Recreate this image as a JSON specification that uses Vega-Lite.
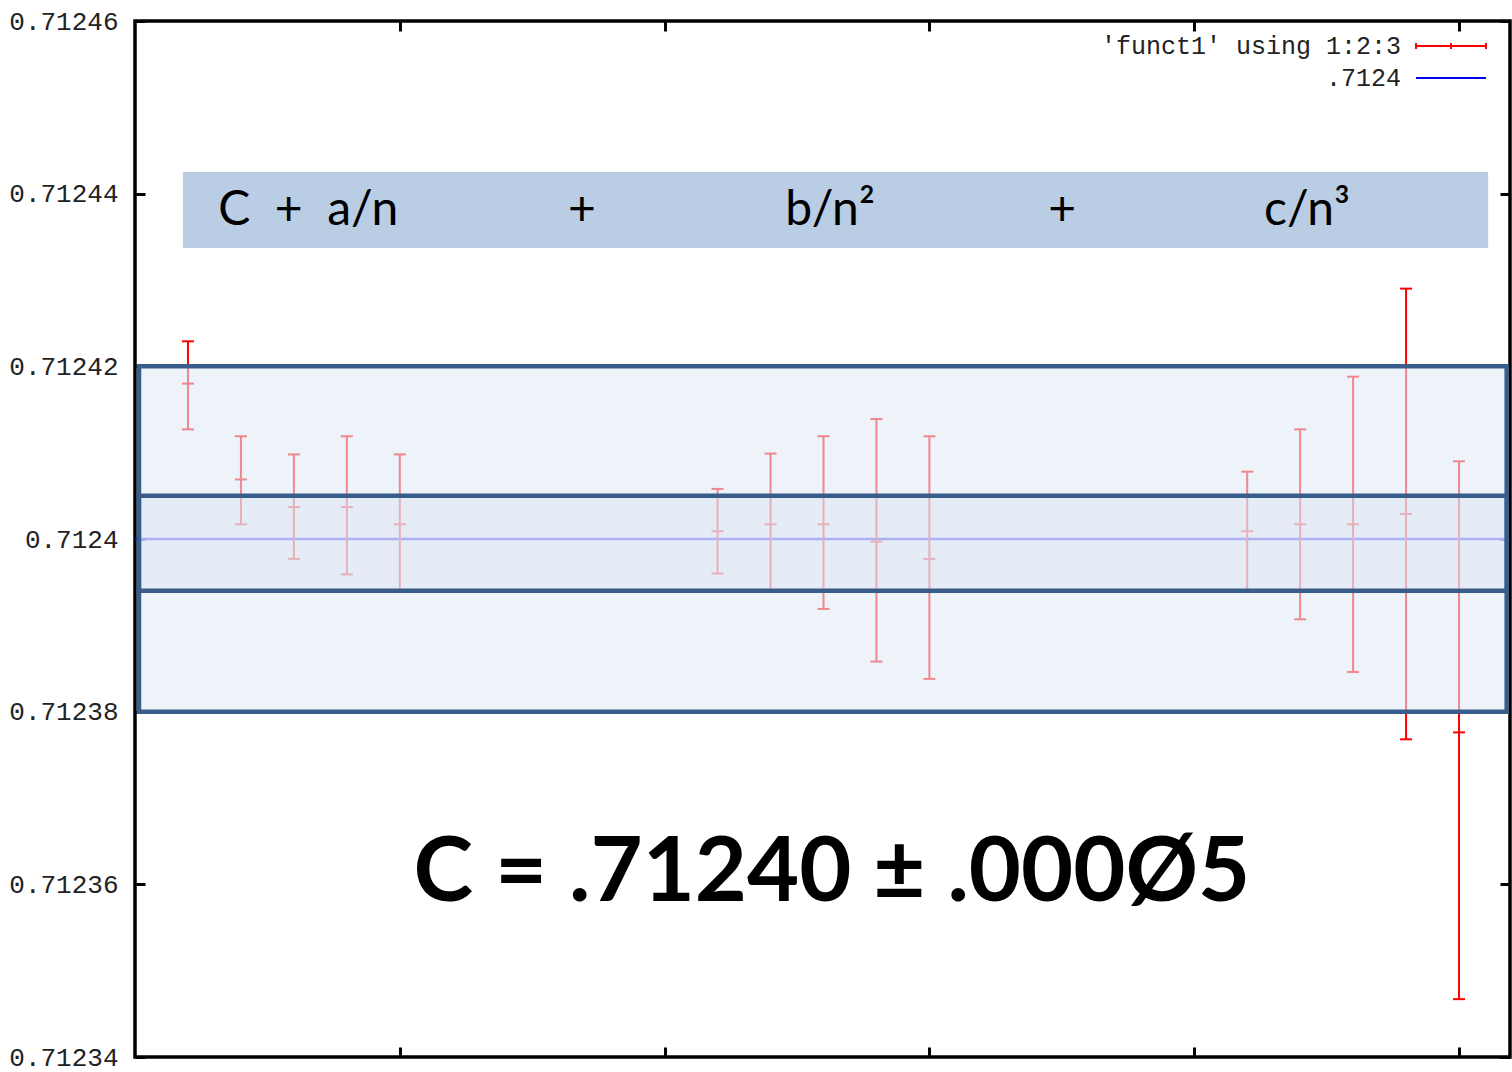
{
  "$schema": "https://vega.github.io/schema/vega-lite/v6.json",
  "width": 1375,
  "height": 1036,
  "autosize": {"type": "none"},
  "padding": {"left": 135, "top": 21, "right": 2, "bottom": 15},
  "background": "white",
  "config": {
    "view": {"stroke": "black", "strokeWidth": 3.5},
    "axis": {
      "domain": false,
      "grid": false,
      "title": null,
      "tickColor": "black",
      "tickWidth": 3,
      "tickSize": -10,
      "labelFont": "Liberation Mono",
      "labelFontSize": 26,
      "labelColor": "#222222"
    }
  },
  "datasets": {
    "funct1": [
      {"x": 0.2, "y": 0.712418, "lo": 0.7124127, "hi": 0.7124229},
      {"x": 0.4, "y": 0.7124069, "lo": 0.7124017, "hi": 0.7124119},
      {"x": 0.6, "y": 0.7124037, "lo": 0.7123977, "hi": 0.7124098},
      {"x": 0.8, "y": 0.7124037, "lo": 0.7123959, "hi": 0.7124119},
      {"x": 1.0, "y": 0.7124017, "lo": 0.7123941, "hi": 0.7124098},
      {"x": 2.2, "y": 0.7124009, "lo": 0.712396, "hi": 0.7124058},
      {"x": 2.4, "y": 0.7124017, "lo": 0.7123939, "hi": 0.7124099},
      {"x": 2.6, "y": 0.7124017, "lo": 0.7123919, "hi": 0.7124119},
      {"x": 2.8, "y": 0.7123997, "lo": 0.7123858, "hi": 0.7124139},
      {"x": 3.0, "y": 0.7123977, "lo": 0.7123838, "hi": 0.7124119},
      {"x": 4.2, "y": 0.7124009, "lo": 0.7123939, "hi": 0.7124078},
      {"x": 4.4, "y": 0.7124017, "lo": 0.7123907, "hi": 0.7124127},
      {"x": 4.6, "y": 0.7124017, "lo": 0.7123846, "hi": 0.7124188},
      {"x": 4.8, "y": 0.7124029, "lo": 0.7123768, "hi": 0.712429},
      {"x": 5.0, "y": 0.7123776, "lo": 0.7123467, "hi": 0.712409}
    ],
    "fit": [{"x": 0, "x2": 5.1925, "c": 0.7124}],
    "outer": [{"x": 0.015, "x2": 5.18, "y": 0.71238, "y2": 0.71242}],
    "inner": [{"x": 0.015, "x2": 5.18, "y": 0.712394, "y2": 0.712405}],
    "band": [{"x": 0.181, "x2": 5.11, "y": 0.7124337, "y2": 0.7124425}],
    "terms": [
      {"x": 0.654, "y": 0.712438, "t": "C\u00a0\u00a0+\u00a0\u00a0a/n"},
      {"x": 1.688, "y": 0.712438, "t": "+"},
      {"x": 2.625, "y": 0.712438, "t": "b/n²"},
      {"x": 3.501, "y": 0.712438, "t": "+"},
      {"x": 4.426, "y": 0.712438, "t": "c/n³"}
    ],
    "result": [{"x": 2.632, "y": 0.7123612, "t": "C = .71240 ± .000Ø5"}]
  },
  "resolve": {"axis": {"x": "independent", "y": "independent"}},
  "layer": [
    {
      "data": {"name": "fit"},
      "mark": {"type": "rule", "strokeWidth": 2.5},
      "encoding": {
        "x": {"field": "x", "type": "quantitative", "scale": {"domain": [0, 5.1925], "nice": false, "zero": false}, "axis": null},
        "x2": {"field": "x2"},
        "y": {"field": "c", "type": "quantitative", "scale": {"domain": [0.71234, 0.71246], "nice": false, "zero": false}, "axis": null},
        "color": {
          "datum": ".7124",
          "type": "nominal",
          "scale": {"domain": ["'funct1' using 1:2:3", ".7124"], "range": ["#ff0000", "#0000ff"]},
          "legend": {
            "orient": "none",
            "legendX": 1303,
            "legendY": 12,
            "title": null,
            "padding": 0,
            "rowPadding": 6,
            "symbolSize": 544,
            "symbolStrokeWidth": 2,
            "labelFont": "Liberation Mono",
            "labelFontSize": 25,
            "labelColor": "#222222",
            "labelAlign": "right",
            "labelOffset": -63,
            "labelLimit": 0,
            "encode": {
              "symbols": {
                "update": {
                  "shape": {"signal": "datum.value === '.7124' ? 'M-3,0H3' : 'M-3,0H3M-3,-0.25V0.25M3,-0.25V0.25M0,-0.25V0.25'"}
                }
              }
            }
          }
        }
      }
    },
    {
      "data": {"name": "funct1"},
      "mark": {"type": "rule", "strokeWidth": 2},
      "encoding": {
        "x": {"field": "x", "type": "quantitative", "axis": {"orient": "bottom", "values": [1, 2, 3, 4, 5], "labels": false}},
        "y": {"field": "lo", "type": "quantitative", "axis": {"orient": "left", "values": [0.71234, 0.71236, 0.71238, 0.7124, 0.71242, 0.71244, 0.71246], "format": ".5~f", "labelPadding": 27}},
        "y2": {"field": "hi"},
        "color": {"datum": "'funct1' using 1:2:3", "type": "nominal"}
      }
    },
    {
      "data": {"name": "funct1"},
      "mark": {"type": "tick", "orient": "horizontal", "size": 12, "thickness": 2, "color": "#ff0000", "opacity": 1},
      "encoding": {
        "x": {"field": "x", "type": "quantitative", "axis": null},
        "y": {"field": "lo", "type": "quantitative", "axis": null}
      }
    },
    {
      "data": {"name": "funct1"},
      "mark": {"type": "tick", "orient": "horizontal", "size": 12, "thickness": 2, "color": "#ff0000", "opacity": 1},
      "encoding": {
        "x": {"field": "x", "type": "quantitative", "axis": null},
        "y": {"field": "hi", "type": "quantitative", "axis": null}
      }
    },
    {
      "data": {"name": "funct1"},
      "mark": {"type": "tick", "orient": "horizontal", "size": 12, "thickness": 2, "color": "#ff0000", "opacity": 1},
      "encoding": {
        "x": {"field": "x", "type": "quantitative", "axis": null},
        "y": {"field": "y", "type": "quantitative", "axis": null}
      }
    },
    {
      "data": {"name": "funct1"},
      "mark": {"type": "point", "opacity": 0},
      "encoding": {
        "x": {"field": "x", "type": "quantitative", "axis": {"orient": "top", "values": [1, 2, 3, 4, 5], "labels": false}},
        "y": {"field": "y", "type": "quantitative", "axis": {"orient": "right", "values": [0.71234, 0.71236, 0.71238, 0.7124, 0.71242, 0.71244, 0.71246], "labels": false}}
      }
    },
    {
      "data": {"name": "outer"},
      "mark": {"type": "rect", "fill": "#e1e9f4", "fillOpacity": 0.58, "stroke": "#385d8a", "strokeWidth": 4.5},
      "encoding": {
        "x": {"field": "x", "type": "quantitative", "axis": null},
        "x2": {"field": "x2"},
        "y": {"field": "y", "type": "quantitative", "axis": null},
        "y2": {"field": "y2"}
      }
    },
    {
      "data": {"name": "inner"},
      "mark": {"type": "rect", "fill": "#dae4ef", "fillOpacity": 0.45, "stroke": "#385d8a", "strokeWidth": 4.5},
      "encoding": {
        "x": {"field": "x", "type": "quantitative", "axis": null},
        "x2": {"field": "x2"},
        "y": {"field": "y", "type": "quantitative", "axis": null},
        "y2": {"field": "y2"}
      }
    },
    {
      "data": {"name": "band"},
      "mark": {"type": "rect", "fill": "#b9cde5"},
      "encoding": {
        "x": {"field": "x", "type": "quantitative", "axis": null},
        "x2": {"field": "x2"},
        "y": {"field": "y", "type": "quantitative", "axis": null},
        "y2": {"field": "y2"}
      }
    },
    {
      "data": {"name": "terms"},
      "mark": {"type": "text", "font": "Lato", "fontSize": 48, "color": "black", "align": "center", "baseline": "middle"},
      "encoding": {
        "x": {"field": "x", "type": "quantitative", "axis": null},
        "y": {"field": "y", "type": "quantitative", "axis": null},
        "text": {"field": "t"}
      }
    },
    {
      "data": {"name": "result"},
      "mark": {"type": "text", "font": "Lato", "fontWeight": "bold", "fontSize": 90, "color": "black", "align": "center", "baseline": "middle"},
      "encoding": {
        "x": {"field": "x", "type": "quantitative", "axis": null},
        "y": {"field": "y", "type": "quantitative", "axis": null},
        "text": {"field": "t"}
      }
    }
  ]
}
